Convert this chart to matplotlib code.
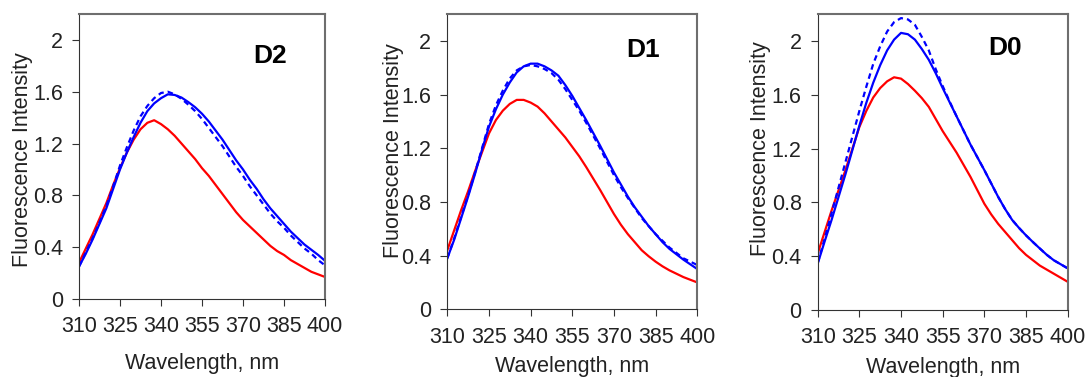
import matplotlib
matplotlib.use("Agg")
import matplotlib.pyplot as plt

plt.rcParams['font.family'] = ['Liberation Sans', 'DejaVu Sans']

# wavelength grid (nm), 2.5 nm steps, shared by all spectra
wl = [310, 312.5, 315, 317.5, 320, 322.5, 325, 327.5, 330, 332.5,
      335, 337.5, 340, 342.5, 345, 347.5, 350, 352.5, 355, 357.5,
      360, 362.5, 365, 367.5, 370, 372.5, 375, 377.5, 380, 382.5,
      385, 387.5, 390, 392.5, 395, 397.5, 400]

# D2
d2_red = [0.28, 0.39, 0.50, 0.62, 0.74, 0.88, 1.01, 1.13, 1.23, 1.31,
          1.36, 1.38, 1.35, 1.31, 1.26, 1.20, 1.14, 1.08, 1.01, 0.95,
          0.88, 0.81, 0.74, 0.67, 0.61, 0.56, 0.51, 0.46, 0.41, 0.37,
          0.34, 0.30, 0.27, 0.24, 0.21, 0.19, 0.17]
d2_blue = [0.25, 0.35, 0.46, 0.58, 0.70, 0.85, 1.00, 1.13, 1.25, 1.36,
           1.45, 1.51, 1.55, 1.58, 1.575, 1.555, 1.52, 1.48, 1.43, 1.37,
           1.30, 1.23, 1.15, 1.07, 1.00, 0.92, 0.85, 0.77, 0.70, 0.64,
           0.58, 0.52, 0.47, 0.42, 0.38, 0.34, 0.295]
d2_dash = [0.25, 0.36, 0.47, 0.59, 0.72, 0.87, 1.03, 1.17, 1.30, 1.41,
           1.49, 1.55, 1.59, 1.60, 1.58, 1.545, 1.50, 1.45, 1.39, 1.32,
           1.25, 1.18, 1.10, 1.02, 0.95, 0.87, 0.80, 0.73, 0.66, 0.60,
           0.55, 0.49, 0.44, 0.39, 0.35, 0.30, 0.26]

# D1
d1_red = [0.44, 0.59, 0.74, 0.88, 1.03, 1.17, 1.31, 1.41, 1.48, 1.53,
          1.56, 1.56, 1.54, 1.51, 1.46, 1.40, 1.34, 1.28, 1.21, 1.14,
          1.06, 0.975, 0.89, 0.80, 0.71, 0.63, 0.56, 0.50, 0.44, 0.395,
          0.355, 0.32, 0.29, 0.265, 0.24, 0.22, 0.20]
d1_blue = [0.38, 0.52, 0.68, 0.84, 1.01, 1.19, 1.36, 1.49, 1.60, 1.69,
           1.765, 1.81, 1.83, 1.83, 1.81, 1.78, 1.74, 1.67, 1.59, 1.50,
           1.41, 1.315, 1.22, 1.12, 1.02, 0.93, 0.84, 0.76, 0.69, 0.62,
           0.56, 0.50, 0.45, 0.41, 0.37, 0.335, 0.30]
d1_dash = [0.38, 0.53, 0.69, 0.85, 1.02, 1.20, 1.38, 1.52, 1.63, 1.72,
           1.78, 1.81, 1.82, 1.81, 1.79, 1.76, 1.71, 1.64, 1.56, 1.48,
           1.39, 1.295, 1.20, 1.10, 1.00, 0.91, 0.83, 0.755, 0.68, 0.62,
           0.56, 0.51, 0.46, 0.42, 0.38, 0.355, 0.33]

# D0
d0_red = [0.42, 0.58, 0.74, 0.89, 1.04, 1.20, 1.36, 1.48, 1.58, 1.65,
          1.70, 1.73, 1.72, 1.68, 1.63, 1.575, 1.51, 1.42, 1.33, 1.25,
          1.17, 1.08, 0.99, 0.89, 0.79, 0.71, 0.64, 0.58, 0.52, 0.46,
          0.41, 0.37, 0.33, 0.30, 0.27, 0.24, 0.21]
d0_blue = [0.345, 0.51, 0.67, 0.84, 1.01, 1.19, 1.37, 1.54, 1.69, 1.82,
           1.93, 2.01, 2.06, 2.05, 2.01, 1.94, 1.86, 1.76, 1.65, 1.545,
           1.44, 1.335, 1.23, 1.135, 1.04, 0.94, 0.84, 0.75, 0.67, 0.61,
           0.555, 0.505, 0.457, 0.41, 0.37, 0.34, 0.31]
d0_dash = [0.35, 0.53, 0.72, 0.91, 1.10, 1.29, 1.48, 1.66, 1.83, 1.96,
           2.07, 2.14, 2.17, 2.16, 2.12, 2.03, 1.93, 1.79, 1.665, 1.55,
           1.44, 1.335, 1.23, 1.135, 1.04, 0.94, 0.84, 0.75, 0.67, 0.61,
           0.555, 0.505, 0.457, 0.41, 0.37, 0.34, 0.31]

x_ticks = [310, 325, 340, 355, 370, 385, 400]
y_ticks = [0, 0.4, 0.8, 1.2, 1.6, 2.0]
y_tick_labels = ["0", "0.4", "0.8", "1.2", "1.6", "2"]

# name, series, axes rect, panel-name xy, ylabel xy, xlabel y (axes fraction)
panels = [
    ("D2", d2_red, d2_blue, d2_dash, [0.0724, 0.2069, 0.2255, 0.756],
     (0.776, 0.853), (-0.228, 0.49), -0.225),
    ("D1", d1_red, d1_blue, d1_dash, [0.410, 0.1796, 0.2291, 0.7833],
     (0.783, 0.878), (-0.217, 0.536), -0.195),
    ("D0", d0_red, d0_blue, d0_dash, [0.7495, 0.1777, 0.2291, 0.785],
     (0.749, 0.885), (-0.227, 0.547), -0.193),
]

fig = plt.figure(figsize=(10.91, 3.77), dpi=100)

for name, red, blue, dash, pos, name_xy, ylab_xy, xlab_y in panels:
    ax = fig.add_axes(pos)
    ax.plot(wl, red, color="#ff0000", lw=1.6)
    ax.plot(wl, dash, color="#0000ff", lw=1.6, ls=(0, (2.5, 1.8)))
    ax.plot(wl, blue, color="#0000ff", lw=1.6)
    ax.set_xlim(310, 400)
    ax.set_ylim(0, 2.2)
    ax.set_xticks(x_ticks)
    ax.set_yticks(y_ticks)
    ax.set_yticklabels(y_tick_labels)
    ax.tick_params(labelsize=15.5, length=5, width=0.8, color="#333333",
                   labelcolor="#222222")
    ax.tick_params(axis="x", pad=7.5)
    ax.tick_params(axis="y", pad=6.5)
    for s in ["top", "right"]:
        ax.spines[s].set_color("#6e6e6e")
        ax.spines[s].set_linewidth(1.5)
    for s in ["left", "bottom"]:
        ax.spines[s].set_color("#333333")
        ax.spines[s].set_linewidth(0.8)
    # axis titles placed like the original (ylabel overlaps tick labels)
    ax.text(ylab_xy[0], ylab_xy[1], "Fluorescence Intensity",
            transform=ax.transAxes, rotation=90, fontsize=15.5,
            color="#222222", ha="center", va="center")
    ax.text(0.5, xlab_y, "Wavelength, nm", transform=ax.transAxes,
            fontsize=15.5, color="#222222", ha="center", va="center")
    ax.text(name_xy[0], name_xy[1], name, transform=ax.transAxes,
            fontsize=19, fontweight="bold", ha="center", va="center")

fig.savefig("out.png", dpi=100)
